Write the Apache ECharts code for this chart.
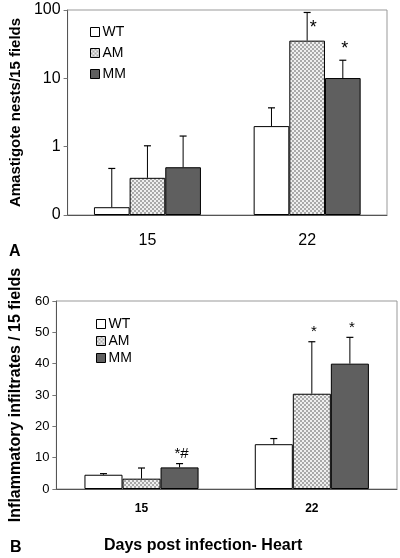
<!DOCTYPE html>
<html>
<head>
<meta charset="utf-8">
<script src="https://cdn.jsdelivr.net/npm/echarts@6/dist/echarts.min.js"></script>
<style>
html,body{margin:0;padding:0;background:#fff;}
#chart{width:400px;height:558px;}
</style>
</head>
<body>
<div id="chart"></div>
<script>
// ---- data ----
const categories = ['15', '22'];
const groupNames = ['WT', 'AM', 'MM'];

// Panel A: amastigote nests / 15 fields (log scale)
const nestsWT = [0.13, 2.0];
const nestsAM = [0.35, 35.6];
const nestsMM = [0.50, 10.1];
const nestsUpperWT = [0.48, 3.7];
const nestsUpperAM = [1.03, 92];
const nestsUpperMM = [1.43, 18.4];
const nestsMarksWT = ['', ''];
const nestsMarksAM = ['', '*'];
const nestsMarksMM = ['', '*'];
const nestsTickValues = [0.1, 1, 10, 100];
const nestsTickLabels = ['0', '1', '10', '100'];

// Panel B: inflammatory infiltrates / 15 fields
const inflWT = [4.55, 14.3];
const inflAM = [3.3, 30.4];
const inflMM = [6.9, 40.0];
const inflUpperWT = [4.9, 16.1];
const inflUpperAM = [6.7, 47.0];
const inflUpperMM = [8.1, 48.4];
const inflMarksWT = ['', ''];
const inflMarksAM = ['', '*'];
const inflMarksMM = ['*#', '*'];

// ---- styling ----
const FONT = '"Liberation Sans", Arial, sans-serif';
function checker() {
  const c = document.createElement('canvas');
  c.width = 4; c.height = 4;
  const g = c.getContext('2d');
  g.fillStyle = '#efefef'; g.fillRect(0, 0, 4, 4);
  g.fillStyle = '#a9a9a9';
  g.fillRect(0, 0, 2, 2); g.fillRect(2, 2, 2, 2);
  return c;
}
const amPattern = { image: checker(), repeat: 'repeat' };
const fills = ['#ffffff', amPattern, '#5f5f5f'];
const GAP = 0.33;

function barSeries(name, idx, data, xi, yi) {
  return {
    name: name, type: 'bar', xAxisIndex: xi, yAxisIndex: yi,
    data: data, barGap: '0%', barCategoryGap: (GAP * 100) + '%',
    itemStyle: { color: fills[idx], borderColor: '#000', borderWidth: 1 },
    emphasis: { disabled: true }, animation: false
  };
}

function errSeries(idx, values, uppers, marks, xi, yi, markSize, capW) {
  return {
    type: 'custom', xAxisIndex: xi, yAxisIndex: yi, z: 5, silent: true, animation: false,
    data: values.map((v, i) => [i, v, uppers[i]]),
    renderItem: function (params, api) {
      const ci = api.value(0);
      const base = api.coord([ci, api.value(1)]);
      const top = api.coord([ci, api.value(2)]);
      const band = api.size([1, 0])[0];
      const bw = band * (1 - GAP) / 3;
      const x = base[0] + (idx - 1) * bw;
      const children = [
        { type: 'line', shape: { x1: x, y1: base[1], x2: x, y2: top[1] }, style: { stroke: '#000', lineWidth: 1 } },
        { type: 'line', shape: { x1: x - capW / 2, y1: top[1], x2: x + capW / 2, y2: top[1] }, style: { stroke: '#000', lineWidth: 1.2 } }
      ];
      const m = marks[params.dataIndex];
      if (m) {
        const gridTop = params.coordSys.y;
        let tx = x + 2, ty = top[1] - 2;
        if (top[1] - markSize < gridTop) { tx = x + 6; ty = top[1] + markSize + 7; }
        children.push({ type: 'text', style: { text: m, x: tx, y: ty, align: 'center', verticalAlign: 'bottom',
          font: markSize + 'px ' + FONT, fill: '#000' } });
      }
      return { type: 'group', children: children };
    }
  };
}

const axisLineStyle = { color: '#555', width: 1 };

const option = {
  animation: false,
  backgroundColor: '#fff',
  grid: [
    { left: 59, right: 13, top: 10, bottom: 343, show: true, borderColor: '#999', borderWidth: 1, backgroundColor: 'transparent' },
    { left: 53, right: 3, top: 301, bottom: 69, show: true, borderColor: '#999', borderWidth: 1, backgroundColor: 'transparent' }
  ],
  legend: [
    { data: groupNames.map(n => ({ name: n })), orient: 'vertical', left: 85, top: 20, itemWidth: 9, itemHeight: 9,
      itemGap: 7, itemStyle: { borderColor: '#000', borderWidth: 1 }, icon: 'rect', selectedMode: false,
      textStyle: { fontFamily: FONT, fontSize: 14, color: '#000', padding: [0, 0, 0, -2] } },
    { data: groupNames.map(n => ({ name: n })), orient: 'vertical', left: 91, top: 312, itemWidth: 9, itemHeight: 9,
      itemGap: 3, itemStyle: { borderColor: '#000', borderWidth: 1 }, icon: 'rect', selectedMode: false,
      textStyle: { fontFamily: FONT, fontSize: 14, color: '#000', padding: [0, 0, 0, -2] } }
  ],
  xAxis: [
    { type: 'category', gridIndex: 0, data: categories,
      axisLine: { lineStyle: axisLineStyle }, axisTick: { length: 4, lineStyle: { color: '#777' } },
      axisLabel: { fontFamily: FONT, fontSize: 16, color: '#000', margin: 18 } },
    { type: 'category', gridIndex: 1, data: categories,
      axisLine: { lineStyle: axisLineStyle }, axisTick: { length: 4, lineStyle: { color: '#777' } },
      axisLabel: { fontFamily: FONT, fontSize: 12, fontWeight: 'bold', color: '#000', margin: 14 } }
  ],
  yAxis: [
    { type: 'log', logBase: 10, gridIndex: 0, min: 0.1, max: 100, startValue: 0.1,
      name: 'Amastigote nests/15 fields', nameLocation: 'middle', nameGap: 41,
      nameTextStyle: { fontFamily: FONT, fontSize: 15, fontWeight: 'bold', color: '#000' },
      axisLine: { show: true, lineStyle: axisLineStyle }, axisTick: { show: true, length: 4, lineStyle: { color: '#777' } },
      splitLine: { show: false },
      axisLabel: { fontFamily: FONT, fontSize: 16, color: '#000', margin: 7,
        formatter: function (v) {
          for (let i = 0; i < nestsTickValues.length; i++) {
            if (Math.abs(Math.log10(v) - Math.log10(nestsTickValues[i])) < 1e-6) return nestsTickLabels[i];
          }
          return '';
        } } },
    { type: 'value', gridIndex: 1, min: 0, max: 60, interval: 10,
      name: 'Inflammatory infiltrates / 15 fields', nameLocation: 'middle', nameGap: 26,
      nameTextStyle: { fontFamily: FONT, fontSize: 16, fontWeight: 'bold', color: '#000' },
      axisLine: { show: true, lineStyle: axisLineStyle }, axisTick: { show: true, length: 4, lineStyle: { color: '#777' } },
      splitLine: { show: false },
      axisLabel: { fontFamily: FONT, fontSize: 13, color: '#000', margin: 7 } }
  ],
  graphic: [
    { type: 'text', left: 9, top: 244, style: { text: 'A', font: 'bold 16px ' + FONT, fill: '#000' } },
    { type: 'text', left: 10, top: 540, style: { text: 'B', font: 'bold 16px ' + FONT, fill: '#000' } },
    { type: 'text', left: 104, top: 538, style: { text: 'Days post infection- Heart', font: 'bold 16px ' + FONT, fill: '#000' } }
  ],
  series: [
    barSeries('WT', 0, nestsWT, 0, 0),
    barSeries('AM', 1, nestsAM, 0, 0),
    barSeries('MM', 2, nestsMM, 0, 0),
    barSeries('WT', 0, inflWT, 1, 1),
    barSeries('AM', 1, inflAM, 1, 1),
    barSeries('MM', 2, inflMM, 1, 1),
    errSeries(0, nestsWT, nestsUpperWT, nestsMarksWT, 0, 0, 18, 7),
    errSeries(1, nestsAM, nestsUpperAM, nestsMarksAM, 0, 0, 18, 7),
    errSeries(2, nestsMM, nestsUpperMM, nestsMarksMM, 0, 0, 18, 7),
    errSeries(0, inflWT, inflUpperWT, inflMarksWT, 1, 1, 15, 7),
    errSeries(1, inflAM, inflUpperAM, inflMarksAM, 1, 1, 15, 7),
    errSeries(2, inflMM, inflUpperMM, inflMarksMM, 1, 1, 15, 7)
  ]
};

const chart = echarts.init(document.getElementById('chart'), null, { renderer: 'canvas' });
chart.setOption(option);
</script>
</body>
</html>
